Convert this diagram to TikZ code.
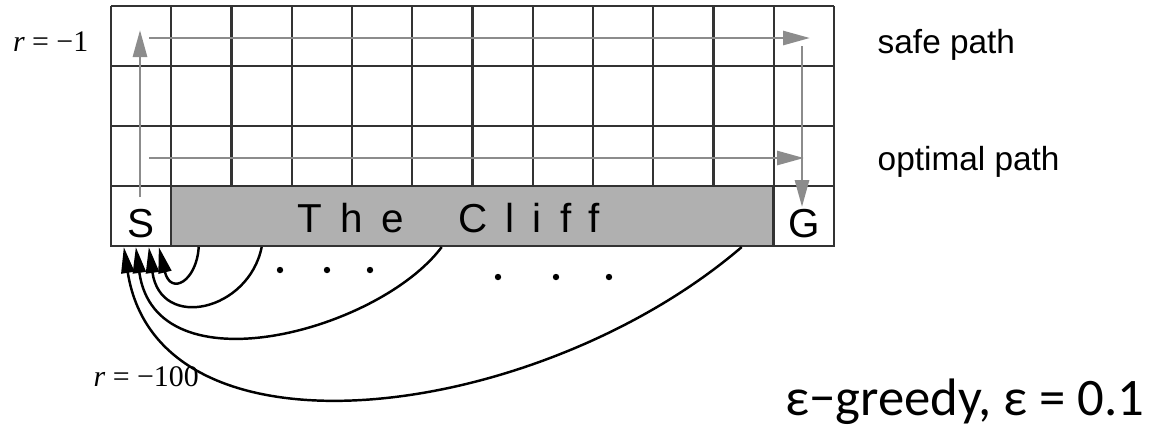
\documentclass[tikz,border=0pt]{standalone}
\usepackage{fontspec}
\setmainfont{Liberation Sans}
\newfontfamily\serifrm{Liberation Serif}
\newfontfamily\calibri{Carlito}
\usetikzlibrary{arrows.meta,calc}
\tikzset{
  gridln/.style={black!80,line width=0.6pt},
  cell/.style={draw=black!80,line width=0.6pt,minimum width=6.025mm,minimum height=6mm,inner sep=0pt,
    text height=4.2mm,text depth=0pt,font=\fontsize{11.5}{12}\selectfont},
  route/.style={-{Triangle[length=2.7mm,width=1.4mm]},black!45,line width=0.8pt},
  fall/.style={-{Triangle[length=2.6mm,width=1.3mm]},line width=0.7pt},
  txt/.style={inner sep=0pt,font=\fontsize{9.5}{11}\selectfont},
  rew/.style={inner sep=0pt,font=\serifrm\fontsize{8.5}{10}\selectfont}
}

\begin{document}
\begin{tikzpicture}
  \useasboundingbox (0,0) rectangle (11.57,-4.35);
  % 12 x 4 gridworld
  \foreach \i in {0,...,12} \draw[gridln] ({1.11+0.6025*\i},-0.06) -- ({1.11+0.6025*\i},-2.46);
  \foreach \j in {0,...,4} \draw[gridln] (1.11,{-0.06-0.6*\j}) -- (8.34,{-0.06-0.6*\j});
  % start, goal and the cliff
  \node[cell,fill=white] (S) at (1.41,-2.16) {S};
  \node[cell,fill=white] (G) at (8.04,-2.16) {G};
  \node[cell,fill=black!31,minimum width=60.25mm,text height=0pt] (cliff) at (4.72,-2.16) {};
  \node[inner sep=0pt,anchor=base,font=\fontsize{11.5}{12}\selectfont\addfontfeature{LetterSpace=45}] (cliffname) at (4.49,-2.32) {The \hspace{0.25cm}Cliff};
  % safe path (up, across, down) and optimal path
  \coordinate (s0) at (1.40,-1.97);
  \coordinate (s1) at (1.40,-0.30);
  \coordinate (s2) at (1.49,-0.38);
  \coordinate (s3) at (8.10,-0.38);
  \coordinate (s4) at (8.02,-0.46);
  \coordinate (s5) at (8.02,-2.07);
  \coordinate (o0) at (1.49,-1.58);
  \coordinate (o1) at (8.04,-1.58);
  \draw[route] (s0) -- (s1);
  \draw[route] (s2) -- (s3);
  \draw[route] (s4) -- (s5);
  \draw[route] (o0) -- (o1);
  \node[txt,anchor=base west] (safe) at (8.77,-0.53) {safe path};
  \node[txt,anchor=base west] (optimal) at (8.77,-1.70) {optimal path};
  % rewards
  \node[rew,anchor=east] (rstep) at (0.89,-0.42) {{\itshape r} = −1};
  \node[rew,anchor=west] (rfall) at (0.93,-3.77) {{\itshape r} = −100};
  % falling off the cliff sends the agent back to S
  \coordinate (c1) at ($(cliff.south west)+(0.29,0)$);
  \coordinate (c2) at ($(cliff.south west)+(0.92,0)$);
  \coordinate (c3) at ($(cliff.south west)+(2.72,0)$);
  \coordinate (c4) at ($(cliff.south west)+(5.72,0)$);
  \coordinate (t1) at ($(S.south west)+(0.49,0)$);
  \coordinate (t2) at ($(S.south west)+(0.39,0)$);
  \coordinate (t3) at ($(S.south west)+(0.26,0)$);
  \coordinate (t4) at ($(S.south west)+(0.14,0)$);
  \draw[fall] (c1) .. controls +(-0.02,-0.34) and +(0.12,-0.49) .. (t1);
  \draw[fall] (c2) .. controls +(-0.13,-0.64) and +(0.12,-0.84) .. (t2);
  \draw[fall] (c3) .. controls +(-0.63,-0.84) and +(0.20,-1.44) .. (t3);
  \draw[fall] (c4) .. controls +(-2.03,-1.74) and +(0.35,-2.24) .. (t4);
  \foreach \x/\y in {2.80/-2.70,3.27/-2.70,3.70/-2.70,4.98/-2.77,5.56/-2.77,6.09/-2.77}
    \fill (\x,\y) circle (0.032);
  % exploration setting
  \node[inner sep=0pt,anchor=base east,font=\calibri\fontsize{15}{17}\selectfont] (eps) at (11.45,-4.15) {ε−greedy, ε = 0.1};
\end{tikzpicture}
\end{document}
